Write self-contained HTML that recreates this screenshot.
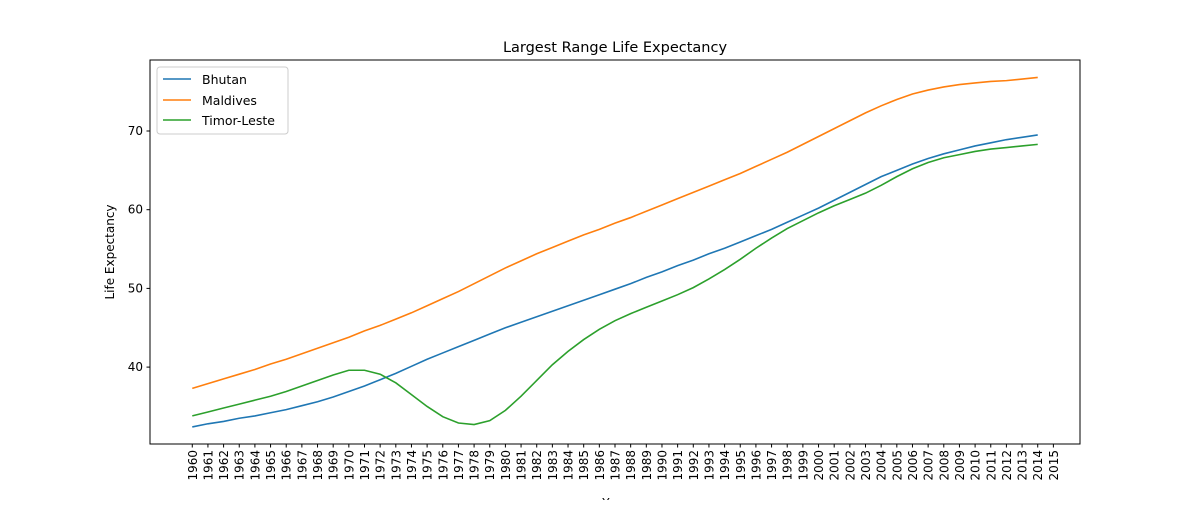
<!DOCTYPE html>
<html><head><meta charset="utf-8"><style>
body{margin:0;background:#fff;font-family:"Liberation Sans","DejaVu Sans",sans-serif}
</style></head><body>
<svg id="chart" width="1200" height="500" xmlns="http://www.w3.org/2000/svg" font-family="DejaVu Sans, Liberation Sans, sans-serif">
<rect width="1200" height="500" fill="#fff"/>
<text x="615" y="52" text-anchor="middle" font-size="14.5">Largest Range Life Expectancy</text>
<text transform="translate(114,252) rotate(-90)" text-anchor="middle" font-size="12">Life Expectancy</text>
<text x="615" y="507" text-anchor="middle" font-size="12">Year</text>
<g id="plot"></g>
<rect x="150" y="60" width="930" height="384" fill="none" stroke="#000" stroke-width="1"/>
<g>
<rect x="157" y="67" width="131" height="67" rx="3" fill="#fff" stroke="#ccc"/>
<line x1="163" y1="79" x2="191" y2="79" stroke="#1f77b4" stroke-width="1.6"/>
<text x="202" y="84" font-size="12.5">Bhutan</text>
<line x1="163" y1="100" x2="191" y2="100" stroke="#ff7f0e" stroke-width="1.6"/>
<text x="202" y="105" font-size="12.5">Maldives</text>
<line x1="163" y1="120" x2="191" y2="120" stroke="#2ca02c" stroke-width="1.6"/>
<text x="202" y="125" font-size="12.5">Timor-Leste</text>
</g>
</svg>
<script>
const startYear = 1960;
const bhutan = [32.4,32.8,33.1,33.5,33.8,34.2,34.6,35.1,35.6,36.2,36.9,37.6,38.4,39.2,40.1,41.0,41.8,42.6,43.4,44.2,45.0,45.7,46.4,47.1,47.8,48.5,49.2,49.9,50.6,51.4,52.1,52.9,53.6,54.4,55.1,55.9,56.7,57.5,58.4,59.3,60.2,61.2,62.2,63.2,64.2,65.0,65.8,66.5,67.1,67.6,68.1,68.5,68.9,69.2,69.5];
const maldives = [37.3,37.9,38.5,39.1,39.7,40.4,41.0,41.7,42.4,43.1,43.8,44.6,45.3,46.1,46.9,47.8,48.7,49.6,50.6,51.6,52.6,53.5,54.4,55.2,56.0,56.8,57.5,58.3,59.0,59.8,60.6,61.4,62.2,63.0,63.8,64.6,65.5,66.4,67.3,68.3,69.3,70.3,71.3,72.3,73.2,74.0,74.7,75.2,75.6,75.9,76.1,76.3,76.4,76.6,76.8];
const timor = [33.8,34.3,34.8,35.3,35.8,36.3,36.9,37.6,38.3,39.0,39.6,39.6,39.1,38.0,36.5,35.0,33.7,32.9,32.7,33.2,34.5,36.3,38.3,40.3,42.0,43.5,44.8,45.9,46.8,47.6,48.4,49.2,50.1,51.2,52.4,53.7,55.1,56.4,57.6,58.6,59.6,60.5,61.3,62.1,63.1,64.2,65.2,66.0,66.6,67.0,67.4,67.7,67.9,68.1,68.3];
const yTicks = [40,50,60,70];
const xTickYears = Array.from({length:56},(_, i)=>1960+i);

const NS="http://www.w3.org/2000/svg";
const g=document.getElementById('plot');
const xMin=1957.3, xMax=2016.7, yMin=30.23, yMax=79.02;
const X=v=>150+(v-xMin)/(xMax-xMin)*930;
const Y=v=>444-(v-yMin)/(yMax-yMin)*384;
function el(t,a){const e=document.createElementNS(NS,t);for(const k in a)e.setAttribute(k,a[k]);g.appendChild(e);return e;}

yTicks.forEach(v=>{
  const t=el('line',{x1:146.5,x2:150,y1:Y(v),y2:Y(v),stroke:'#000'});
  
  
  const l=el('text',{x:143,y:Y(v)+4,'text-anchor':'end','font-size':'12'});
  l.textContent=v;
  
  
});
xTickYears.forEach(yr=>{
  const t=el('line',{x1:X(yr),x2:X(yr),y1:444,y2:447.5,stroke:'#000'});
  
  
  const l=el('text',{transform:`translate(${X(yr)+4.5},450) rotate(-90)`,'text-anchor':'end','font-size':'12'});
  l.textContent=yr;
  
  
});
[[bhutan,'#1f77b4','bhutan-line'],[maldives,'#ff7f0e','maldives-line'],[timor,'#2ca02c','timor-leste-line']].forEach(([d,c,n])=>{
  const p=el('polyline',{points:d.map((v,i)=>X(startYear+i)+','+Y(v)).join(' '),fill:'none',stroke:c,'stroke-width':1.6});
  
  
});
</script>
</body></html>
